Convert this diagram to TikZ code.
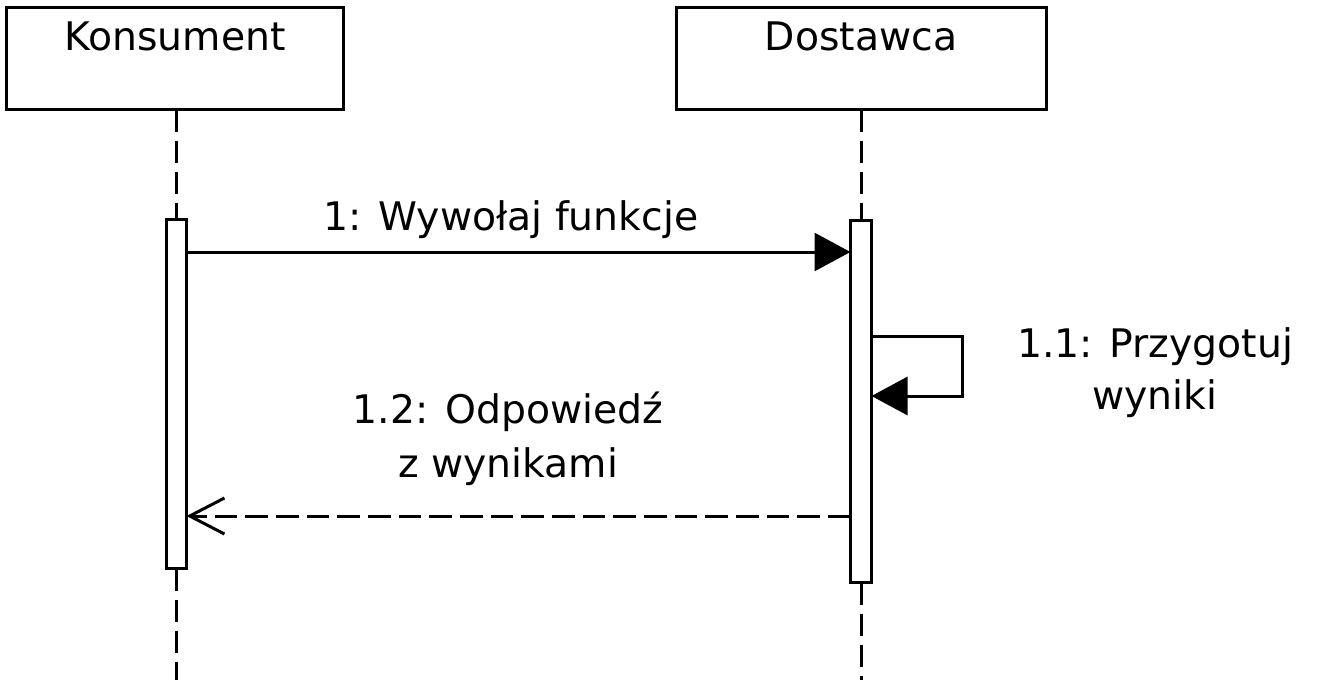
\documentclass[tikz,border=0pt]{standalone}
\usepackage{fontspec}
\setmainfont{DejaVu Sans}
\usetikzlibrary{arrows.meta}
\begin{document}
\begin{tikzpicture}[x=0.75pt,y=-0.75pt,
  every node/.style={inner sep=0pt, outer sep=0pt},
  ln/.style={line width=2.25pt},
  actor/.style={ln, draw, rectangle, minimum height=76.5pt},
  actbar/.style={ln, draw, fill=white, rectangle},
  txt/.style={font=\fontsize{29.5}{40}\selectfont, anchor=base},
  lifeline/.style={ln, dash pattern=on 16.5pt off 6.75pt},
  msg/.style={ln, -{Triangle[length=27pt,width=28.5pt]}},
  selfmsg/.style={ln, line join=miter, -{Triangle[length=27pt,width=28.5pt]}},
  ret/.style={ln, dash pattern=on 17pt off 6pt, -{Straight Barb[length=26pt,width=27pt,line width=2.25pt]}}
]
\useasboundingbox (0,0) rectangle (1332,690);
% actors
\node[actor, minimum width=252.75pt] (K) at (175,58.5) {};
\node[actor, minimum width=277.5pt] (D) at (861.5,58.5) {};
\node[txt] (Kt) at (175,50) {Konsument};
\node[txt] (Dt) at (861,50) {Dostawca};
% activation bars
\node[actbar, minimum width=15pt, minimum height=261.75pt] (Ka) at (176.5,394) {};
\node[actbar, minimum width=15.75pt, minimum height=271.5pt] (Da) at (861,401.5) {};
% lifeline ends
\coordinate (Kend) at (176.5,680);
\coordinate (Dend) at (861,680);
\draw[lifeline] (K.south -| Ka) -- (Ka.north);
\draw[lifeline] (Ka.south) -- (Kend);
\draw[lifeline] (D.south -| Da) -- (Da.north);
\draw[lifeline] (Da.south) -- (Dend);
% message points
\coordinate (m1) at (0,252);
\coordinate (s1) at (962,336);
\coordinate (s2) at (962,396);
\coordinate (r1) at (0,516);
% messages
\draw[msg] (Ka.east |- m1) -- (Da.west |- m1);
\draw[selfmsg] (Da.east |- s1) -- (s1) -- (s2) -- (Da.east |- s2);
\draw[ret] (Da.west |- r1) -- (Ka.east |- r1);
% labels
\node[txt] (l1) at (511,230) {1: Wywołaj funkcje};
\node[txt] (l2a) at (1155,357) {1.1: Przygotuj};
\node[txt] (l2b) at (1155,409) {wyniki};
\node[txt] (l3a) at (508,423) {1.2: Odpowiedź};
\node[txt] (l3b) at (508,477) {z wynikami};
\end{tikzpicture}
\end{document}
